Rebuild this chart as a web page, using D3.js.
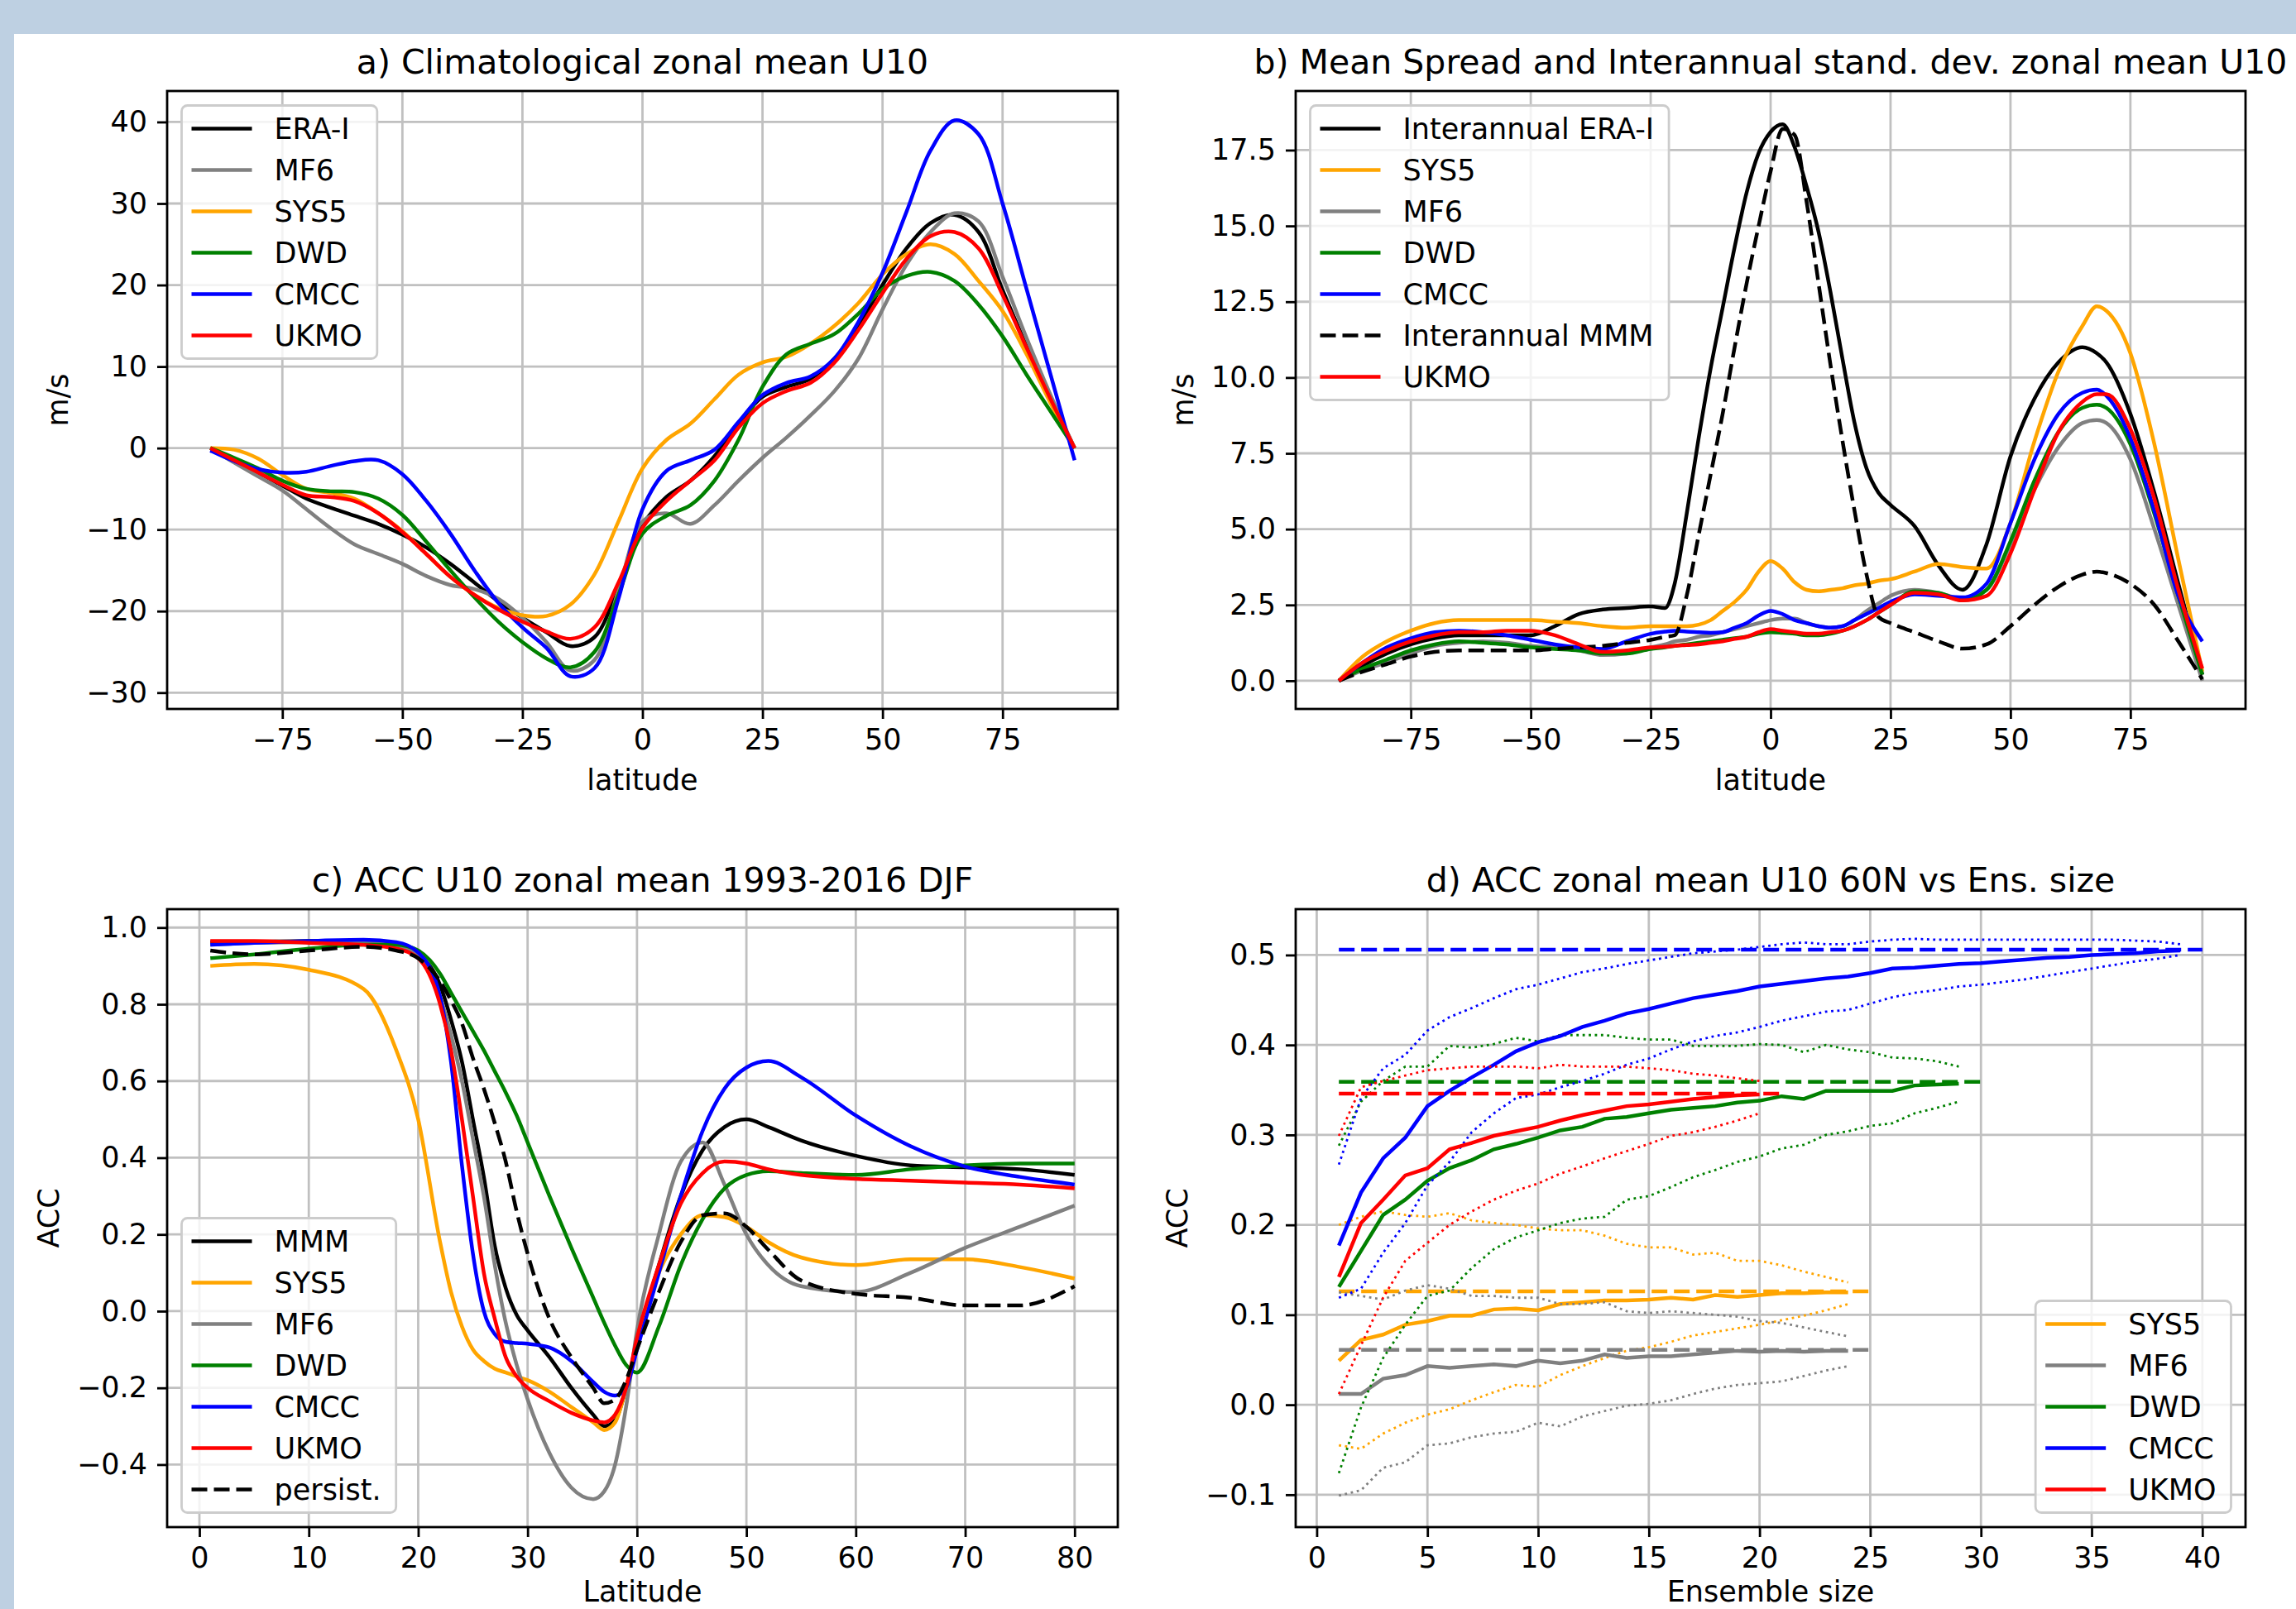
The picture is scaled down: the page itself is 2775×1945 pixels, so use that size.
<!DOCTYPE html>
<html>
<head>
<meta charset="utf-8">
<script src="https://cdnjs.cloudflare.com/ajax/libs/d3/7.8.5/d3.min.js"></script>
<style>
    body { margin: 0; background: #ffffff; }
    svg { display: block; font-family: "DejaVu Sans", sans-serif; }
</style>
</head>
<body>
<div id="chart"></div>
<script>

// ---- a) climatological zonal mean U10 (m/s), every 5 deg latitude
var latA = [-90,-85,-80,-75,-70,-65,-60,-55,-50,-45,-40,-35,-30,-25,-20,-15,-10,-5,0,5,10,15,20,25,30,35,40,45,50,55,60,65,70,75,80,85,90];
var eraA  = [0,-1.5,-3.0,-4.6,-6.2,-7.3,-8.3,-9.3,-10.6,-12.2,-14.2,-16.5,-18.8,-20.8,-22.6,-24.3,-23.2,-17.0,-9.5,-6.0,-4.0,-1.0,3.0,6.3,7.5,8.5,11.0,15.0,20.0,24.5,27.6,28.6,26.5,19.4,12.5,6.0,0];
var mf6A  = [0,-1.8,-3.5,-5.2,-7.5,-9.8,-11.8,-13.0,-14.2,-15.7,-16.8,-17.3,-18.5,-20.8,-23.8,-27.3,-26.0,-17.5,-9.0,-8.0,-9.3,-7.0,-4.0,-1.2,1.3,4.0,7.0,11.0,17.0,22.5,26.5,28.8,27.8,21.0,13.5,6.5,0];
var sys5A = [0,-0.2,-1.3,-3.3,-5.0,-5.5,-6.2,-8.0,-10.2,-13.0,-15.8,-18.0,-19.6,-20.5,-20.6,-19.2,-15.5,-9.0,-2.5,1.0,3.0,6.0,9.0,10.5,11.2,12.8,15.0,17.8,21.3,23.8,25.0,23.8,20.5,16.8,11.5,5.5,0];
var dwdA  = [0,-1.2,-2.5,-4.0,-5.0,-5.3,-5.4,-6.2,-8.2,-11.5,-15.0,-18.3,-21.3,-23.8,-25.8,-26.9,-25.0,-18.0,-10.5,-8.3,-7.0,-4.0,1.0,7.5,11.5,12.8,14.0,16.5,19.5,21.1,21.6,20.5,17.6,13.7,9.0,4.5,0];
var cmccA = [-0.3,-1.6,-2.6,-3.0,-2.9,-2.2,-1.6,-1.5,-3.2,-6.5,-10.5,-15.0,-19.0,-22.0,-24.5,-28.0,-27.0,-18.5,-7.5,-2.8,-1.5,-0.2,3.2,6.5,8.0,8.8,11.0,15.5,21.5,29.0,36.5,40.2,38.5,30.0,19.5,9.0,-1.5];
var ukmoA = [0,-1.5,-3.0,-4.5,-5.8,-6.0,-6.5,-8.0,-10.3,-13.0,-15.8,-18.0,-19.8,-21.3,-22.5,-23.4,-22.0,-16.5,-9.8,-6.5,-4.0,-1.5,2.5,5.5,7.0,8.0,10.5,14.5,19.0,23.2,26.0,26.5,24.5,18.8,12.3,6.0,0];

// ---- b) spread and interannual standard deviation (m/s)
var latB = [-90,-85,-80,-75,-70,-65,-60,-55,-50,-45,-40,-35,-30,-25,-22,-20,-17.5,-15,-12.5,-10,-7.5,-5,-2.5,0,2.5,5,7.5,10,12.5,15,17.5,20,22.5,25,30,35,40,45,50,55,60,65,68,70,75,80,85,90];
var eraB  = [0,0.5,0.9,1.2,1.4,1.5,1.5,1.5,1.5,1.8,2.2,2.35,2.4,2.45,2.4,3.2,5.5,8.0,10.3,12.3,14.3,16.1,17.4,18.1,18.35,17.6,16.3,14.8,12.8,10.6,8.5,7.0,6.2,5.8,5.1,3.8,3.0,4.5,7.4,9.3,10.5,11.0,10.8,10.5,8.8,6.2,3.2,0.2];
var sys5B = [0,0.8,1.3,1.65,1.9,2.0,2.0,2.0,2.0,1.95,1.9,1.8,1.75,1.8,1.8,1.8,1.8,1.85,2.0,2.3,2.6,3.0,3.6,3.95,3.7,3.25,3.0,2.95,3.0,3.05,3.15,3.2,3.3,3.35,3.6,3.85,3.75,3.7,5.2,7.9,10.2,11.7,12.35,12.2,10.8,7.8,4.0,0.3];
var mf6B  = [0,0.35,0.6,0.9,1.15,1.25,1.3,1.25,1.15,1.1,1.0,0.85,0.9,1.1,1.2,1.3,1.35,1.45,1.5,1.6,1.7,1.8,1.9,2.0,2.05,2.05,1.9,1.8,1.75,1.8,2.0,2.3,2.55,2.8,3.0,2.9,2.7,3.0,4.5,6.3,7.7,8.5,8.6,8.5,7.3,5.0,2.5,0];
var dwdB  = [0,0.4,0.7,1.0,1.2,1.3,1.25,1.2,1.1,1.05,1.0,0.9,0.9,1.05,1.1,1.15,1.2,1.25,1.3,1.35,1.4,1.45,1.55,1.6,1.58,1.55,1.5,1.5,1.55,1.65,1.8,2.0,2.25,2.5,2.95,2.9,2.65,3.0,4.6,6.6,8.2,9.0,9.1,9.0,7.8,5.5,2.8,0.2];
var cmccB = [0,0.6,1.1,1.4,1.6,1.65,1.6,1.5,1.35,1.2,1.1,1.05,1.3,1.55,1.62,1.65,1.62,1.6,1.58,1.6,1.75,1.9,2.15,2.3,2.2,2.0,1.9,1.8,1.75,1.8,2.0,2.2,2.4,2.6,2.85,2.8,2.75,3.2,5.2,7.3,8.8,9.5,9.6,9.4,8.0,5.6,2.8,1.3];
var mmmB  = [0,0.3,0.55,0.8,0.95,1.0,1.0,1.0,1.0,1.05,1.1,1.15,1.25,1.35,1.45,1.5,2.8,4.8,6.8,8.8,11.0,13.1,15.0,16.8,18.2,18.0,15.8,13.1,10.4,7.9,5.6,3.5,2.1,1.9,1.6,1.3,1.06,1.2,1.8,2.5,3.1,3.5,3.6,3.55,3.2,2.5,1.3,0.05];
var ukmoB = [0,0.6,1.0,1.3,1.5,1.6,1.6,1.65,1.65,1.5,1.2,0.95,1.0,1.1,1.12,1.15,1.18,1.2,1.25,1.3,1.38,1.45,1.6,1.7,1.65,1.6,1.55,1.55,1.6,1.65,1.8,2.0,2.25,2.5,2.9,2.85,2.65,2.8,4.2,6.3,8.2,9.2,9.45,9.45,8.3,6.0,3.0,0.4];

// ---- c) ACC U10 zonal mean 1993-2016 DJF
var latC = [1,5,10,15,18,20,22,23,24,25,26,27,28,29,30,32,34,36,37,38,39,40,42,44,46,48,50,52,55,60,65,70,75,80];
var mmmC     = [0.962,0.963,0.965,0.965,0.955,0.93,0.85,0.76,0.65,0.5,0.35,0.17,0.06,-0.01,-0.05,-0.12,-0.2,-0.27,-0.3,-0.285,-0.2,-0.08,0.12,0.3,0.42,0.48,0.5,0.48,0.445,0.405,0.38,0.375,0.37,0.355];
var sys5C    = [0.9,0.905,0.89,0.84,0.68,0.5,0.18,0.05,-0.04,-0.1,-0.13,-0.15,-0.16,-0.17,-0.18,-0.21,-0.25,-0.29,-0.31,-0.29,-0.2,-0.08,0.1,0.2,0.25,0.245,0.22,0.18,0.14,0.12,0.135,0.135,0.115,0.085];
var mf6C     = [0.955,0.96,0.962,0.962,0.95,0.93,0.82,0.72,0.6,0.45,0.3,0.12,-0.03,-0.14,-0.23,-0.37,-0.46,-0.49,-0.47,-0.4,-0.25,-0.05,0.2,0.39,0.44,0.33,0.2,0.12,0.065,0.05,0.1,0.165,0.22,0.275];
var dwdC     = [0.92,0.93,0.945,0.955,0.955,0.94,0.88,0.83,0.78,0.73,0.68,0.625,0.57,0.51,0.44,0.3,0.165,0.035,-0.03,-0.09,-0.14,-0.16,-0.04,0.12,0.24,0.32,0.355,0.365,0.36,0.355,0.37,0.38,0.385,0.385];
var cmccC    = [0.955,0.96,0.965,0.968,0.962,0.935,0.82,0.65,0.38,0.15,0.0,-0.06,-0.08,-0.083,-0.085,-0.095,-0.13,-0.185,-0.21,-0.22,-0.2,-0.1,0.1,0.3,0.47,0.58,0.635,0.652,0.61,0.51,0.43,0.377,0.35,0.33];
var ukmoC    = [0.965,0.965,0.96,0.955,0.945,0.92,0.8,0.68,0.5,0.3,0.1,-0.02,-0.12,-0.17,-0.2,-0.235,-0.265,-0.285,-0.29,-0.27,-0.2,-0.07,0.12,0.28,0.36,0.39,0.385,0.37,0.355,0.345,0.34,0.335,0.33,0.32];
var persistC = [0.94,0.93,0.94,0.95,0.94,0.92,0.86,0.81,0.75,0.66,0.58,0.49,0.39,0.26,0.15,-0.02,-0.12,-0.2,-0.24,-0.23,-0.18,-0.1,0.05,0.18,0.25,0.255,0.22,0.16,0.08,0.045,0.035,0.015,0.015,0.065];

// ---- d) ACC at 60N vs ensemble size (mean, upper and lower dotted bounds)
var sys5Mean = [0.049,0.072,0.078,0.089,0.093,0.099,0.099,0.106,0.107,0.105,0.112,0.114,0.116,0.116,0.117,0.119,0.117,0.122,0.120,0.122,0.124,0.124,0.125,0.125];
var sys5Hi   = [0.200,0.209,0.215,0.211,0.209,0.213,0.205,0.202,0.200,0.196,0.194,0.194,0.188,0.179,0.175,0.175,0.167,0.169,0.160,0.160,0.155,0.148,0.142,0.136];
var sys5Lo   = [-0.045,-0.049,-0.032,-0.020,-0.011,-0.005,0.005,0.014,0.022,0.020,0.033,0.043,0.052,0.060,0.064,0.070,0.077,0.081,0.085,0.089,0.094,0.099,0.105,0.112];
var mf6Mean  = [0.012,0.012,0.029,0.033,0.043,0.041,0.043,0.045,0.043,0.049,0.046,0.049,0.056,0.052,0.054,0.054,0.056,0.058,0.060,0.059,0.060,0.059,0.060,0.060];
var mf6Hi    = [0.125,0.121,0.117,0.127,0.133,0.129,0.121,0.121,0.119,0.119,0.112,0.112,0.114,0.104,0.102,0.104,0.102,0.100,0.098,0.093,0.091,0.086,0.081,0.076];
var mf6Lo    = [-0.101,-0.095,-0.070,-0.064,-0.045,-0.043,-0.036,-0.032,-0.030,-0.020,-0.024,-0.013,-0.007,-0.001,0.001,0.005,0.012,0.018,0.022,0.024,0.026,0.032,0.038,0.043];
var dwdMean  = [0.131,0.171,0.211,0.228,0.249,0.263,0.272,0.284,0.290,0.297,0.305,0.309,0.318,0.320,0.324,0.328,0.330,0.332,0.336,0.338,0.343,0.340,0.349,0.349,0.349,0.349,0.355,0.356,0.357];
var dwdHi    = [0.288,0.337,0.360,0.376,0.376,0.399,0.397,0.401,0.408,0.404,0.411,0.411,0.411,0.408,0.406,0.406,0.399,0.399,0.399,0.401,0.400,0.392,0.400,0.395,0.392,0.386,0.385,0.382,0.376];
var dwdLo    = [-0.076,-0.003,0.052,0.089,0.121,0.127,0.152,0.173,0.186,0.194,0.202,0.207,0.209,0.228,0.232,0.242,0.253,0.261,0.270,0.276,0.285,0.289,0.300,0.304,0.310,0.313,0.324,0.330,0.337];
var cmccMean = [0.177,0.236,0.274,0.297,0.332,0.349,0.364,0.378,0.393,0.403,0.410,0.420,0.427,0.435,0.440,0.446,0.452,0.456,0.460,0.465,0.468,0.471,0.474,0.476,0.480,0.485,0.486,0.488,0.490,0.491,0.493,0.495,0.497,0.498,0.500,0.501,0.502,0.504,0.505];
var cmccHi   = [0.267,0.341,0.374,0.389,0.416,0.431,0.441,0.452,0.462,0.467,0.474,0.481,0.485,0.490,0.494,0.498,0.502,0.504,0.506,0.509,0.512,0.514,0.512,0.512,0.515,0.517,0.518,0.517,0.517,0.517,0.517,0.517,0.517,0.517,0.517,0.517,0.516,0.515,0.512];
var cmccLo   = [0.119,0.129,0.169,0.202,0.244,0.270,0.303,0.324,0.341,0.345,0.353,0.360,0.368,0.378,0.385,0.395,0.404,0.410,0.414,0.420,0.427,0.432,0.437,0.439,0.446,0.453,0.458,0.461,0.465,0.467,0.470,0.473,0.477,0.481,0.485,0.489,0.493,0.496,0.500];
var ukmoMean = [0.142,0.202,0.228,0.255,0.263,0.284,0.291,0.299,0.304,0.309,0.316,0.322,0.327,0.332,0.334,0.337,0.340,0.342,0.344,0.345];
var ukmoHi   = [0.299,0.353,0.360,0.366,0.372,0.374,0.376,0.376,0.376,0.374,0.378,0.376,0.376,0.376,0.374,0.372,0.368,0.366,0.363,0.360];
var ukmoLo   = [0.012,0.066,0.119,0.160,0.180,0.200,0.215,0.228,0.238,0.246,0.257,0.265,0.274,0.282,0.290,0.299,0.303,0.309,0.316,0.324];
// full-ensemble ACC (dashed) and full ensemble size
var ensModels = ["SYS5", "MF6", "DWD", "CMCC", "UKMO"];
var fullAcc   = [0.126, 0.061, 0.359, 0.506, 0.346];
var fullSize  = [25, 25, 30, 40, 21];

var col = {black: "#000000", grey: "#808080", orange: "#ffa500", green: "#008000", blue: "#0000ff", red: "#ff0000"};

var svg = d3.select("#chart").append("svg")
    .attr("width", 2775)
    .attr("height", 1945);

svg.append("rect").attr("width", 2775).attr("height", 1945).attr("fill", "#bed0e2");
svg.append("rect").attr("x", 17).attr("y", 41).attr("width", 2758).attr("height", 1904).attr("fill", "#ffffff");


/*
 * One axes panel, matplotlib-like
 */

LinePanel = function(_svg, _cfg){
    this.svg = _svg;
    this.cfg = _cfg;
    this.initVis();
}

LinePanel.prototype.initVis = function(){
    var vis = this;
    var c = vis.cfg;

    vis.g = vis.svg.append("g")
        .attr("transform", "translate(" + c.left + "," + c.top + ")");

    vis.x = d3.scaleLinear().domain(c.xDomain).range([0, c.width]);
    vis.y = d3.scaleLinear().domain(c.yDomain).range([c.height, 0]);

    // grid
    var grid = vis.g.append("g").attr("stroke", "#c0c0c0").attr("stroke-width", 2.8);
    grid.selectAll(".gx").data(c.xTicks).enter().append("line")
        .attr("x1", function(d){ return vis.x(d); })
        .attr("x2", function(d){ return vis.x(d); })
        .attr("y1", 0).attr("y2", c.height);
    grid.selectAll(".gy").data(c.yTicks).enter().append("line")
        .attr("y1", function(d){ return vis.y(d); })
        .attr("y2", function(d){ return vis.y(d); })
        .attr("x1", 0).attr("x2", c.width);

    vis.updateVis();
}

LinePanel.prototype.updateVis = function(){
    var vis = this;
    var c = vis.cfg;

    var line = d3.line()
        .x(function(d){ return vis.x(d[0]); })
        .y(function(d){ return vis.y(d[1]); })
        .curve(c.curve || d3.curveLinear);

    vis.g.selectAll(".series")
        .data(c.series)
        .enter()
        .append("path")
        .attr("class", "series")
        .attr("fill", "none")
        .attr("stroke", function(d){ return d.color; })
        .attr("stroke-width", function(d){ return d.style == "dotted" ? 2.8 : 4.5; })
        .attr("stroke-dasharray", function(d){
            if (d.style == "dashed") return "19,8";
            if (d.style == "dotted") return "2.8,4.6";
            return null;
        })
        .attr("d", function(d){ return line(d3.zip(d.x, d.y)); });

    // frame
    vis.g.append("rect")
        .attr("width", c.width).attr("height", c.height)
        .attr("fill", "none").attr("stroke", "#000").attr("stroke-width", 2.8);

    var xAxis = d3.axisBottom(vis.x).tickValues(c.xTicks).tickSize(12).tickPadding(12)
        .tickFormat(c.xFormat || d3.format("d"));
    var yAxis = d3.axisLeft(vis.y).tickValues(c.yTicks).tickSize(12).tickPadding(12)
        .tickFormat(c.yFormat || d3.format("d"));

    var xg = vis.g.append("g").attr("transform", "translate(0," + c.height + ")").call(xAxis);
    var yg = vis.g.append("g").call(yAxis);
    [xg, yg].forEach(function(a){
        a.select(".domain").remove();
        a.selectAll("line").attr("stroke-width", 2.8);
        a.selectAll("text").attr("font-size", 35).attr("font-family", "DejaVu Sans").attr("fill", "#000");
    });

    vis.g.append("text")
        .attr("x", c.width / 2).attr("y", -21)
        .attr("text-anchor", "middle")
        .attr("font-size", 41)
        .text(c.title);

    vis.g.append("text")
        .attr("x", c.width / 2).attr("y", c.height + (c.xLabelOff || 98))
        .attr("text-anchor", "middle")
        .attr("font-size", 35)
        .text(c.xLabel);

    var bb = yg.node().getBBox();
    var lx = bb.x - 14 - 8;
    vis.g.append("text")
        .attr("transform", "translate(" + lx + "," + (c.height / 2) + ") rotate(-90)")
        .attr("text-anchor", "middle")
        .attr("font-size", 35)
        .text(c.yLabel);

    vis.drawLegend();
}

LinePanel.prototype.drawLegend = function(){
    var vis = this;
    var c = vis.cfg;
    var items = c.series.filter(function(d){ return d.label; });
    var pad = 17.5, rowH = 50;
    var h = 28 * 2 + (items.length - 1) * rowH;

    var lg = vis.g.append("g");
    var box = lg.append("rect")
        .attr("rx", 7).attr("ry", 7)
        .attr("fill", "#ffffff").attr("fill-opacity", 0.8)
        .attr("stroke", "#cccccc").attr("stroke-width", 2.8);

    var maxW = 0;
    items.forEach(function(d, i){
        var yy = 28 + i * rowH;
        lg.append("line")
            .attr("x1", 12).attr("x2", 85).attr("y1", yy).attr("y2", yy)
            .attr("stroke", d.color).attr("stroke-width", 4.5)
            .attr("stroke-dasharray", d.style == "dashed" ? "19,8" : null);
        var t = lg.append("text")
            .attr("x", 112).attr("y", yy).attr("dy", "0.36em")
            .attr("font-size", 35)
            .text(d.label);
        maxW = Math.max(maxW, t.node().getComputedTextLength());
    });
    var w = 112 + maxW + 18;
    box.attr("width", w).attr("height", h);

    var lx = pad, ly = pad;
    if (c.legend == "ll") { ly = c.height - pad - h; }
    if (c.legend == "lr") { lx = c.width - pad - w; ly = c.height - pad - h; }
    lg.attr("transform", "translate(" + lx + "," + ly + ")");
}


// ---- panel configs
var f1 = d3.format(".1f");

new LinePanel(svg, {
    left: 202, top: 110, width: 1149, height: 747,
    xDomain: [-99, 99], yDomain: [-32.0, 43.8],
    xTicks: [-75, -50, -25, 0, 25, 50, 75], yTicks: [-30, -20, -10, 0, 10, 20, 30, 40],
    title: "a) Climatological zonal mean U10", xLabel: "latitude", yLabel: "m/s",
    curve: d3.curveCatmullRom, legend: "ul",
    series: [
        {label: "ERA-I", x: latA, y: eraA,  color: col.black},
        {label: "MF6",   x: latA, y: mf6A,  color: col.grey},
        {label: "SYS5",  x: latA, y: sys5A, color: col.orange},
        {label: "DWD",   x: latA, y: dwdA,  color: col.green},
        {label: "CMCC",  x: latA, y: cmccA, color: col.blue},
        {label: "UKMO",  x: latA, y: ukmoA, color: col.red}
    ]
});

new LinePanel(svg, {
    left: 1566, top: 110, width: 1148, height: 747,
    xDomain: [-99, 99], yDomain: [-0.93, 19.45],
    xTicks: [-75, -50, -25, 0, 25, 50, 75], yTicks: [0, 2.5, 5, 7.5, 10, 12.5, 15, 17.5],
    yFormat: f1,
    title: "b) Mean Spread and Interannual stand. dev. zonal mean U10", xLabel: "latitude", yLabel: "m/s",
    curve: d3.curveMonotoneX, legend: "ul",
    series: [
        {label: "Interannual ERA-I", x: latB, y: eraB,  color: col.black},
        {label: "SYS5",              x: latB, y: sys5B, color: col.orange},
        {label: "MF6",               x: latB, y: mf6B,  color: col.grey},
        {label: "DWD",               x: latB, y: dwdB,  color: col.green},
        {label: "CMCC",              x: latB, y: cmccB, color: col.blue},
        {label: "Interannual MMM",   x: latB, y: mmmB,  color: col.black, style: "dashed"},
        {label: "UKMO",              x: latB, y: ukmoB, color: col.red}
    ]
});

new LinePanel(svg, {
    left: 202, top: 1099, width: 1149, height: 747,
    xDomain: [-2.95, 83.95], yDomain: [-0.563, 1.048],
    xTicks: [0, 10, 20, 30, 40, 50, 60, 70, 80], yTicks: [-0.4, -0.2, 0, 0.2, 0.4, 0.6, 0.8, 1.0],
    yFormat: f1,
    title: "c) ACC U10 zonal mean 1993-2016 DJF", xLabel: "Latitude", yLabel: "ACC", xLabelOff: 90,
    curve: d3.curveMonotoneX, legend: "ll",
    series: [
        {label: "MMM",      x: latC, y: mmmC,     color: col.black},
        {label: "SYS5",     x: latC, y: sys5C,    color: col.orange},
        {label: "MF6",      x: latC, y: mf6C,     color: col.grey},
        {label: "DWD",      x: latC, y: dwdC,     color: col.green},
        {label: "CMCC",     x: latC, y: cmccC,    color: col.blue},
        {label: "UKMO",     x: latC, y: ukmoC,    color: col.red},
        {label: "persist.", x: latC, y: persistC, color: col.black, style: "dashed"}
    ]
});

// panel d: solid mean, dashed full-ensemble value, dotted bounds per model
var ensSets = [
    {mean: sys5Mean, hi: sys5Hi, lo: sys5Lo, color: col.orange},
    {mean: mf6Mean,  hi: mf6Hi,  lo: mf6Lo,  color: col.grey},
    {mean: dwdMean,  hi: dwdHi,  lo: dwdLo,  color: col.green},
    {mean: cmccMean, hi: cmccHi, lo: cmccLo, color: col.blue},
    {mean: ukmoMean, hi: ukmoHi, lo: ukmoLo, color: col.red}
];
var seriesD = [];
ensSets.forEach(function(s, i){
    var n = d3.range(1, s.mean.length + 1);
    seriesD.push({label: ensModels[i], x: n, y: s.mean, color: s.color});
    seriesD.push({x: [1, fullSize[i]], y: [fullAcc[i], fullAcc[i]], color: s.color, style: "dashed"});
    seriesD.push({x: n, y: s.hi, color: s.color, style: "dotted"});
    seriesD.push({x: n, y: s.lo, color: s.color, style: "dotted"});
});

new LinePanel(svg, {
    left: 1566, top: 1099, width: 1148, height: 747,
    xDomain: [-0.95, 41.95], yDomain: [-0.136, 0.551],
    xTicks: [0, 5, 10, 15, 20, 25, 30, 35, 40], yTicks: [-0.1, 0, 0.1, 0.2, 0.3, 0.4, 0.5],
    yFormat: f1,
    title: "d) ACC zonal mean U10 60N vs Ens. size", xLabel: "Ensemble size", yLabel: "ACC", xLabelOff: 90,
    legend: "lr",
    series: seriesD
});

</script>
</body>
</html>
